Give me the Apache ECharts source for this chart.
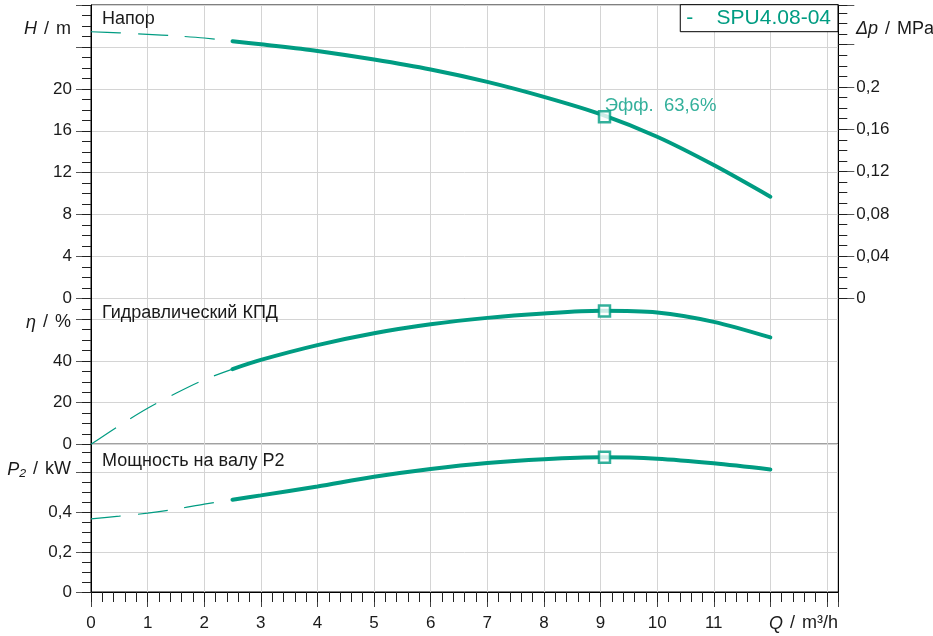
<!DOCTYPE html>
<html>
<head>
<meta charset="utf-8">
<script src="https://cdn.jsdelivr.net/npm/echarts@6/dist/echarts.min.js"></script>
<style>
html,body{margin:0;padding:0;background:#fff;}
#chart{width:933px;height:636px;}
</style>
</head>
<body>
<div id="chart"></div>
<script>
// ---- data ----
const flowDash = [0, 0.5, 1, 1.5, 2, 2.5];
const flowMain = [2.5, 3, 4, 5, 6, 7, 8, 9, 10, 11, 12];
const headDash = [25.45, 25.35, 25.2, 25.05, 24.85, 24.55];
const headMain = [24.55, 24.25, 23.62, 22.8, 21.85, 20.67, 19.24, 17.59, 15.43, 12.73, 9.71];
const effDash = [0, 9, 17.3, 24.5, 31, 36.1];
const effMain = [36.1, 40.5, 47.6, 53.3, 57.6, 60.7, 62.8, 64.1, 63.3, 58.8, 51.3];
const powDash = [0.366, 0.38, 0.395, 0.415, 0.44, 0.462];
const powMain = [0.462, 0.484, 0.529, 0.577, 0.616, 0.646, 0.665, 0.675, 0.668, 0.645, 0.614];
const dutyFlow = 9.07;
const dutyHead = 17.33;
const dutyEff = 64.0;
const dutyPow = 0.675;
const dutyLabel = 'Эфф.  63,6%';
const seriesName = 'SPU4.08-04';
const panelTitles = ['Напор', 'Гидравлический КПД', 'Мощность на валу P2'];
const qTickLabels = [0, 1, 2, 3, 4, 5, 6, 7, 8, 9, 10, 11];
const hTickLabels = [0, 4, 8, 12, 16, 20];
const dpTickLabels = [0, 0.04, 0.08, 0.12, 0.16, 0.2];
const effTickLabels = [0, 20, 40];
const powTickLabels = [0, 0.2, 0.4];

// ---- style ----
const TEAL = '#009c82';
const FONT = '"Liberation Sans", Arial, sans-serif';
const TXT = '#1a1a1a';
const GRIDC = '#d4d4d4';

const zip = (xs, ys) => xs.map((x, i) => [x, ys[i]]);
const near = (v, list) => list.some(t => Math.abs(t - v) < 1e-6);
const comma = (v, d) => String(+v.toFixed(d)).replace('.', ',');

const L = 91, W = 747.3;
const grids = [
  {left: L, top: 5, width: W, height: 293.5},
  {left: L, top: 298.5, width: W, height: 145.8},
  {left: L, top: 444.3, width: W, height: 147.7}
].map(g => Object.assign(g, {show: true, borderColor: '#000', borderWidth: 1, containLabel: false, outerBoundsMode: 'none'}));

const QMAX = 13.2;
function xMajor(gi, withLabels) {
  return {
    type: 'value', gridIndex: gi, min: 0, max: QMAX, interval: 1, position: 'bottom',
    axisLine: {show: withLabels, onZero: false, lineStyle: {color: '#000', width: 1}},
    axisTick: {show: withLabels, length: 15, lineStyle: {color: '#444'}},
    axisLabel: {show: withLabels, margin: 23, fontSize: 17, fontFamily: FONT, color: TXT,
      formatter: v => near(v, qTickLabels) ? String(Math.round(v)) : ''},
    splitLine: {show: true, lineStyle: {color: GRIDC, width: 1}}
  };
}
const xAxes = [xMajor(0, false), xMajor(1, false), xMajor(2, true),
  {type: 'value', gridIndex: 2, min: 0, max: QMAX, interval: 0.2, position: 'bottom',
   axisLine: {show: false, onZero: false}, axisTick: {show: true, length: 10, lineStyle: {color: '#222'}},
   axisLabel: {show: false}, splitLine: {show: false}}];

function yPair(gi, pos, max, major, minor, majorLen, minorLen, margin, labelFn, split) {
  return [
    {type: 'value', gridIndex: gi, position: pos, min: 0, max: max, interval: major,
     axisLine: {show: true, onZero: false, lineStyle: {color: '#000', width: 1}},
     axisTick: {show: true, length: majorLen, lineStyle: {color: '#555'}},
     axisLabel: {show: true, margin: margin, fontSize: 17, fontFamily: FONT, color: TXT, formatter: labelFn},
     splitLine: {show: split, lineStyle: {color: GRIDC, width: 1}}},
    {type: 'value', gridIndex: gi, position: pos, min: 0, max: max, interval: minor,
     axisLine: {show: false, onZero: false}, axisTick: {show: true, length: minorLen, lineStyle: {color: '#222'}},
     axisLabel: {show: false}, splitLine: {show: false}}
  ];
}
function rightEdge(gi, max) {
  return {type: 'value', gridIndex: gi, position: 'right', min: 0, max: max,
    axisLine: {show: true, onZero: false, lineStyle: {color: '#000', width: 1}},
    axisTick: {show: false}, axisLabel: {show: false}, splitLine: {show: false}};
}
const yAxes = [].concat(
  yPair(0, 'left', 28, 4, 1, 15, 9, 19, v => near(v, hTickLabels) ? String(Math.round(v)) : '', true),
  yPair(0, 'right', 0.2775, 0.04, 0.01, 16, 9, 18, v => near(v, dpTickLabels) ? comma(v, 2) : '', false),
  yPair(1, 'left', 70, 20, 5, 15, 9, 19, v => near(v, effTickLabels) ? String(Math.round(v)) : '', true),
  yPair(2, 'left', 0.74, 0.2, 0.05, 15, 9, 19, v => near(v, powTickLabels) ? comma(v, 1) : '', true),
  [rightEdge(1, 70), rightEdge(2, 0.74)]
);

function dashLine(xi, yi, data) {
  return {type: 'line', xAxisIndex: xi, yAxisIndex: yi, data: data, smooth: 0.3, symbol: 'none',
    lineStyle: {color: TEAL, width: 1.2, type: [30, 17]}, z: 3, silent: true};
}
function mainLine(xi, yi, data, name) {
  return {type: 'line', name: name, xAxisIndex: xi, yAxisIndex: yi, data: data, smooth: 0.3, symbol: 'none',
    lineStyle: {color: TEAL, width: 4, cap: 'round'}, itemStyle: {color: TEAL}, z: 4, silent: true};
}
function duty(xi, yi, pt, label) {
  const s = {type: 'scatter', xAxisIndex: xi, yAxisIndex: yi, data: [pt], symbol: 'rect', symbolSize: 11,
    itemStyle: {color: '#fff', borderColor: TEAL, borderWidth: 2.5}, z: 6, silent: true};
  if (label) {
    s.label = {show: true, formatter: label, position: [7, -4], align: 'left', verticalAlign: 'middle',
      color: TEAL, fontSize: 18.5, fontFamily: FONT};
  }
  return s;
}

const series = [
  dashLine(0, 0, zip(flowDash, headDash)),
  mainLine(0, 0, zip(flowMain, headMain), seriesName),
  duty(0, 0, [dutyFlow, dutyHead], dutyLabel),
  dashLine(1, 4, zip(flowDash, effDash)),
  mainLine(1, 4, zip(flowMain, effMain)),
  duty(1, 4, [dutyFlow, dutyEff]),
  dashLine(2, 6, zip(flowDash, powDash)),
  mainLine(2, 6, zip(flowMain, powMain)),
  duty(2, 6, [dutyFlow, dutyPow])
];

function txt(x, y, text, align) {
  return {type: 'text', x: x, y: y, z: 10, silent: true,
    style: {text: text, font: '18px ' + FONT, fill: TXT, align: align, verticalAlign: 'middle',
      rich: {i: {fontStyle: 'italic', font: 'italic 18px ' + FONT, fill: TXT},
             s: {font: '18px ' + FONT, fill: TXT, padding: [0, 2]}}}};
}
const graphic = [
  txt(102, 19, panelTitles[0], 'left'),
  txt(102, 313, panelTitles[1], 'left'),
  txt(102, 461, panelTitles[2], 'left'),
  txt(71, 29, '{i|H}{s| / }m', 'right'),
  txt(71, 322.5, '{i|η}{s| / }%', 'right'),
  txt(71, 469.5, '{i|P₂}{s| / }kW', 'right'),
  txt(856, 29, '{i|Δp}{s| / }MPa', 'left'),
  txt(838, 623.5, '{i|Q}{s| / }m³/h', 'right')
];

const chart = echarts.init(document.getElementById('chart'), null, {renderer: 'canvas'});
chart.setOption({
  animation: false,
  backgroundColor: '#fff',
  grid: grids,
  xAxis: xAxes,
  yAxis: yAxes,
  legend: {
    data: [seriesName], right: 95, top: 4.7, icon: 'none', itemWidth: 0, itemHeight: 0, itemGap: 0,
    formatter: '-    {name}', selectedMode: false,
    textStyle: {color: TEAL, fontSize: 21, fontFamily: FONT},
    backgroundColor: '#fff', borderColor: '#000', borderWidth: 1, borderRadius: 0, padding: [3, 7, 3, 1]
  },
  series: series,
  graphic: graphic
});
</script>
</body>
</html>
